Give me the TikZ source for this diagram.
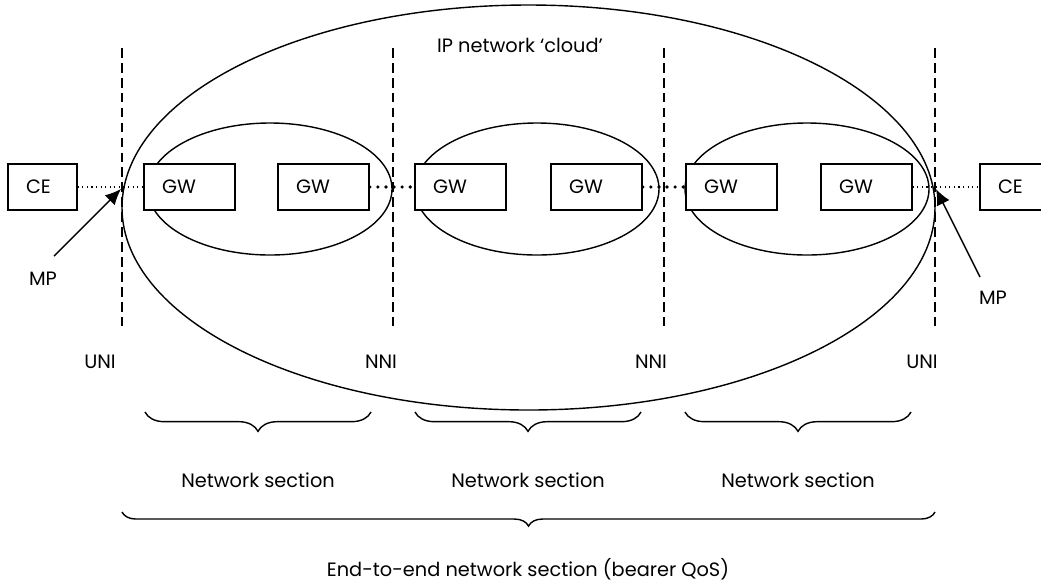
\documentclass[tikz,border=0pt]{standalone}
\usepackage{fontspec}
\setmainfont{Poppins}
\usetikzlibrary{decorations.pathreplacing,arrows.meta}
\tikzset{
	box/.style={draw, line width=0.9pt, inner xsep=0.36cm, inner ysep=0pt, minimum height=0.92cm, align=left},
	gwbox/.style={box, text width=1.1cm},
	cebox/.style={box, text width=0.66cm},
	iface/.style={dash pattern=on 5.5pt off 3pt, line width=0.8pt},
	thinlink/.style={dotted, line width=0.6pt},
	thicklink/.style={line width=2.1pt, dash pattern=on 0pt off 4.6pt, line cap=round},
	mparrow/.style={-{Latex[length=9pt,width=8pt]}, line width=0.8pt},
	sectbrace/.style={decorate, decoration={brace, mirror, amplitude=11pt}, line width=0.8pt}
}
\begin{document}
\begin{tikzpicture}[x=0.02cm, y=-0.02cm, font=\fontsize{11}{13}\selectfont]
		\useasboundingbox (0,0) rectangle (1041,583);
		\draw[line width=0.8pt] (528.5,207.5) ellipse (406.5 and 202.5);
		\draw[line width=0.8pt] (270,189) ellipse (122 and 66);
		\draw[line width=0.8pt] (537,189) ellipse (122 and 66);
		\draw[line width=0.8pt] (807,189) ellipse (122 and 66);
		\node[cebox, fill=white] (ce1) at (42.5,187) {CE};
		\node[gwbox, fill=white] (gw1) at (189.5,187) {GW};
		\node[gwbox, fill=white] (gw2) at (323.5,187) {GW};
		\node[gwbox, fill=white] (gw3) at (460.5,187) {GW};
		\node[gwbox, fill=white] (gw4) at (596.5,187) {GW};
		\node[gwbox, fill=white] (gw5) at (731.5,187) {GW};
		\node[gwbox, fill=white] (gw6) at (866.5,187) {GW};
		\node[cebox, fill=white] (ce2) at (1014.5,187) {CE};
		\draw[thinlink] (ce1) -- (gw1);
		\draw[thicklink] (gw2) -- (gw3);
		\draw[thicklink] (gw4) -- (gw5);
		\draw[thinlink] (gw6) -- (ce2);
		\coordinate (uni1top) at (122,48);
		\coordinate (uni1bot) at (122,326);
		\coordinate (nni1top) at (393,48);
		\coordinate (nni1bot) at (393,326);
		\coordinate (nni2top) at (664,48);
		\coordinate (nni2bot) at (664,326);
		\coordinate (uni2top) at (935,48);
		\coordinate (uni2bot) at (935,326);
		\draw[iface] (uni1top) -- (uni1bot);
		\draw[iface] (nni1top) -- (nni1bot);
		\draw[iface] (nni2top) -- (nni2bot);
		\draw[iface] (uni2top) -- (uni2bot);
		\node (cloud) at (520,45) {IP network ‘cloud’};
		\node (uni1) at (100,362) {UNI};
		\node (nni1) at (381,362) {NNI};
		\node (nni2) at (651,362) {NNI};
		\node (uni2) at (922,362) {UNI};
		\node (mp1) at (43,279) {MP};
		\node (mp2) at (993,298) {MP};
		\coordinate (mp1tail) at (54,256);
		\coordinate (mp1tip) at (121,189);
		\coordinate (mp2tail) at (980,277);
		\coordinate (mp2tip) at (936,189);
		\draw[mparrow] (mp1tail) -- (mp1tip);
		\draw[mparrow] (mp2tail) -- (mp2tip);
		\draw[sectbrace] (145,412) -- (371,412);
		\draw[sectbrace] (415,412) -- (641,412);
		\draw[sectbrace] (685,412) -- (911,412);
		\draw[sectbrace, decoration={amplitude=8pt}] (122,512) -- (935,512);
		\node (sect1) at (258,480) {Network section};
		\node (sect2) at (528,480) {Network section};
		\node (sect3) at (798,480) {Network section};
		\node (e2e) at (528,569) {End-to-end network section (bearer QoS)};
\end{tikzpicture}
\end{document}
